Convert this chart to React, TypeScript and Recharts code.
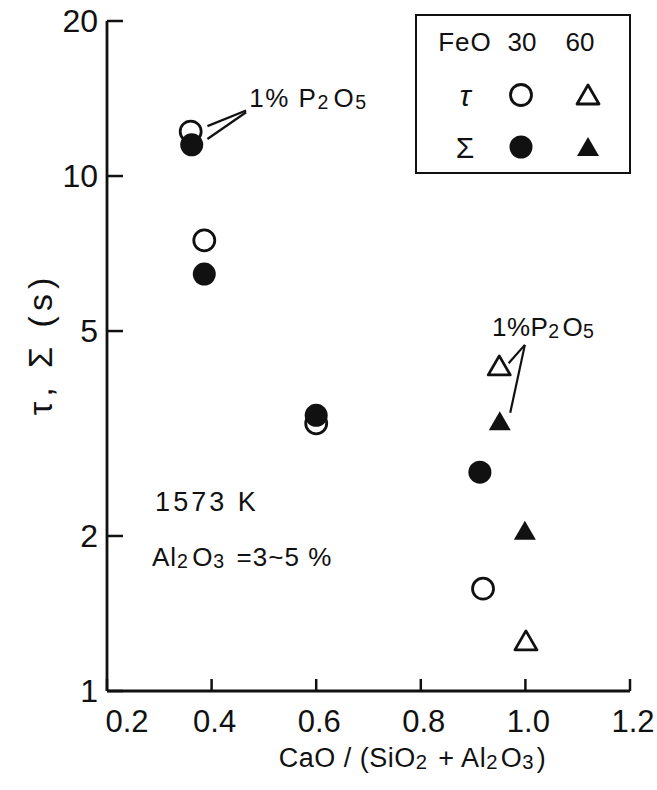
import { ScatterChart, Scatter, XAxis, YAxis, ReferenceLine, ReferenceDot, Legend } from 'recharts';

// FeO 30 %: tau (open circles) and sigma (filled circles)
const tau30 = [
  { x: 0.36, y: 12.2 },
  { x: 0.386, y: 7.5 },
  { x: 0.6, y: 3.31 },
  { x: 0.919, y: 1.58 },
];
const sigma30 = [
  { x: 0.362, y: 11.5 },
  { x: 0.386, y: 6.45 },
  { x: 0.6, y: 3.43 },
  { x: 0.913, y: 2.66 },
];
// FeO 60 %: tau (open triangles) and sigma (filled triangles)
const tau60 = [
  { x: 0.95, y: 4.24 },
  { x: 1.001, y: 1.24 },
];
const sigma60 = [
  { x: 0.951, y: 3.31 },
  { x: 0.999, y: 2.03 },
];

const xTicks = [0.2, 0.4, 0.6, 0.8, 1.0, 1.2];
const yTicks = [1, 2, 5, 10, 20];

// leader lines for the "1% P2O5" notes
const leaderTop = [
  [{ x: 0.466, y: 13.4 }, { x: 0.392, y: 12.5 }],
  [{ x: 0.466, y: 13.3 }, { x: 0.392, y: 11.8 }],
];
const leaderRight = [
  [{ x: 0.999, y: 4.7 }, { x: 0.968, y: 4.33 }],
  [{ x: 0.999, y: 4.7 }, { x: 0.971, y: 3.47 }],
];

const FONT = "'Liberation Sans Narrow', 'Liberation Sans', sans-serif";
const INK = '#111';

const OpenCircle = (p: any) => (
  <circle cx={p.cx} cy={p.cy} r={10.5} fill="none" stroke={INK} strokeWidth={2.8} />
);
const FilledCircle = (p: any) => <circle cx={p.cx} cy={p.cy} r={11.5} fill={INK} />;
const triPts = (cx: number, cy: number) =>
  `${cx},${cy - 12} ${cx - 11},${cy + 7} ${cx + 11},${cy + 7}`;
const OpenTriangle = (p: any) => (
  <polygon points={triPts(p.cx, p.cy)} fill="none" stroke={INK} strokeWidth={2.8} strokeLinejoin="round" />
);
const FilledTriangle = (p: any) => <polygon points={triPts(p.cx, p.cy)} fill={INK} />;

const XTick = ({ x, y, payload, index }: any) => (
  <g>
    <line x1={x} x2={x} y1={y} y2={y - 12} stroke={INK} strokeWidth={2.5} />
    <text
      x={x + (index === 0 ? 20 : 3)}
      y={y + 30}
      textAnchor="middle"
      dominantBaseline="central"
      fontFamily={FONT}
      fontSize={31}
      fill={INK}
    >
      {payload.value.toFixed(1)}
    </text>
  </g>
);

const YTick = ({ x, y, payload }: any) => (
  <g>
    <line x1={x} x2={x + 16} y1={y} y2={y} stroke={INK} strokeWidth={2.5} />
    <text x={x - 9} y={y} textAnchor="end" dominantBaseline="central" fontFamily={FONT} fontSize={32} fill={INK}>
      {payload.value}
    </text>
  </g>
);

const Sub = ({ children }: any) => (
  <>
    <tspan fontSize="0.75em" dy={4}>{children}</tspan>
    <tspan dy={-4}>{'\u200a'}</tspan>
  </>
);

const NoteText = (size: number, content: any, spacing = 0) => (p: any) => (
  <text
    x={p.cx}
    y={p.cy}
    dominantBaseline="central"
    fontFamily={FONT}
    fontSize={size}
    letterSpacing={spacing}
    fill={INK}
  >
    {content}
  </text>
);

const LegendBox = () => (
  <div
    style={{
      width: 216,
      height: 160,
      boxSizing: 'border-box',
      border: `2.5px solid ${INK}`,
      background: '#fff',
    }}
  >
    <svg width={211} height={155} style={{ display: 'block' }}>
      <g fontFamily={FONT} fontSize={26} fill={INK} textAnchor="middle" dominantBaseline="central">
        <text x={48} y={26} letterSpacing={1}>FeO</text>
        <text x={105} y={26}>30</text>
        <text x={163} y={26}>60</text>
        <text x={48} y={79} fontSize={30} fontStyle="italic">τ</text>
        <text x={48} y={131} fontSize={30}>Σ</text>
      </g>
      <OpenCircle cx={104} cy={79} />
      <OpenTriangle cx={171} cy={81} />
      <FilledCircle cx={104} cy={131} />
      <FilledTriangle cx={171} cy={133} />
    </svg>
  </div>
);

export default function App() {
  return (
    <div style={{ position: 'absolute', left: 0, top: 0, background: '#fff' }}>
      <ScatterChart width={657} height={790} margin={{ top: 21, right: 27, bottom: 0, left: 8 }}>
        <XAxis
          type="number"
          dataKey="x"
          domain={[0.2, 1.2]}
          ticks={xTicks}
          tickSize={0}
          tickMargin={0}
          tickLine={false}
          tick={<XTick />}
          height={99}
          axisLine={{ stroke: INK, strokeWidth: 2.8 }}
          label={{
            position: 'insideBottom',
            content: ({ viewBox }: any) => (
              <text
                x={viewBox.x + viewBox.width / 2 + 44}
                y={viewBox.y + 67}
                textAnchor="middle"
                dominantBaseline="central"
                fontFamily={FONT}
                fontSize={27}
                letterSpacing={0.5}
                fill={INK}
              >
                CaO / (SiO<Sub>2</Sub> + Al<Sub>2</Sub>O<Sub>3</Sub>)
              </text>
            ),
          }}
        />
        <XAxis
          xAxisId="top"
          orientation="top"
          type="number"
          domain={[0.2, 1.2]}
          height={0}
          tick={false}
          tickLine={false}
          axisLine={{ stroke: INK, strokeWidth: 2.8 }}
        />
        <YAxis
          type="number"
          dataKey="y"
          scale="log"
          domain={[1, 20]}
          ticks={yTicks}
          allowDataOverflow
          tickSize={0}
          tickMargin={0}
          tickLine={false}
          tick={<YTick />}
          width={99}
          axisLine={{ stroke: INK, strokeWidth: 2.8 }}
          label={{
            position: 'insideLeft',
            content: ({ viewBox }: any) => {
              const cx = viewBox.x + 32;
              const cy = viewBox.y + viewBox.height / 2 - 12;
              return (
                <text
                  x={cx}
                  y={cy}
                  transform={`rotate(-90 ${cx} ${cy})`}
                  textAnchor="middle"
                  dominantBaseline="central"
                  fontFamily={FONT}
                  fontSize={34}
                  letterSpacing={5}
                  fill={INK}
                >
                  τ, Σ (s)
                </text>
              );
            },
          }}
        />
        <YAxis
          yAxisId="right"
          orientation="right"
          type="number"
          domain={[0, 1]}
          width={0}
          tick={false}
          tickLine={false}
          axisLine={{ stroke: INK, strokeWidth: 2.8 }}
        />

        <Scatter data={tau30} shape={OpenCircle} isAnimationActive={false} />
        <Scatter data={sigma30} shape={FilledCircle} isAnimationActive={false} />
        <Scatter data={tau60} shape={OpenTriangle} isAnimationActive={false} />
        <Scatter data={sigma60} shape={FilledTriangle} isAnimationActive={false} />

        {[...leaderTop, ...leaderRight].map((seg, i) => (
          <ReferenceLine key={i} segment={seg} stroke={INK} strokeWidth={2.2} ifOverflow="visible" />
        ))}

        <ReferenceDot
          x={0.472}
          y={14.2}
          ifOverflow="visible"
          shape={NoteText(26, <>1% P<Sub>2</Sub>O<Sub>5</Sub></>, 1.5)}
        />
        <ReferenceDot
          x={0.936}
          y={5.1}
          ifOverflow="visible"
          shape={NoteText(26, <>1%P<Sub>2</Sub>O<Sub>5</Sub></>, 0.5)}
        />
        <ReferenceDot
          x={0.292}
          y={2.33}
          ifOverflow="visible"
          shape={NoteText(27, '1573 K', 3)}
        />
        <ReferenceDot
          x={0.286}
          y={1.82}
          ifOverflow="visible"
          shape={NoteText(26, <>Al<Sub>2</Sub>O<Sub>3</Sub> =3~5 %</>, 1)}
        />

        <Legend
          layout="horizontal"
          verticalAlign="middle"
          align="center"
          wrapperStyle={{ left: 415, top: 14, width: 216, height: 160 }}
          content={() => <LegendBox />}
        />
      </ScatterChart>
    </div>
  );
}
